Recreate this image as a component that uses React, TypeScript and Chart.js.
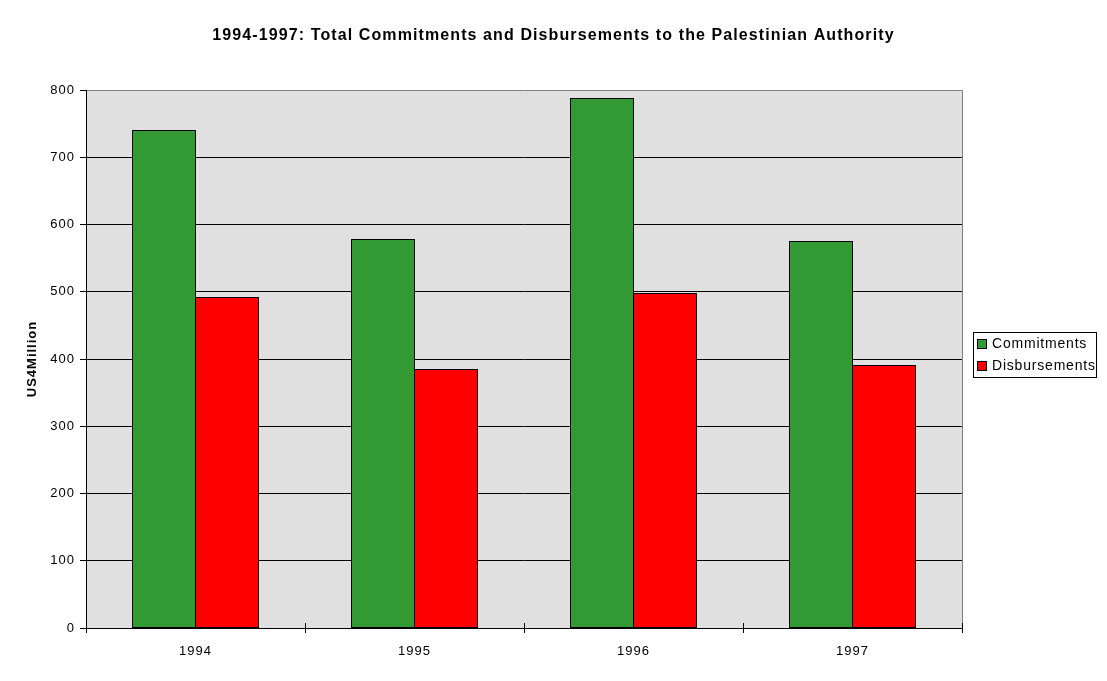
import React, { useEffect, useRef } from "react";
import { Chart, registerables } from "chart.js";

Chart.register(...registerables);

const categories = ["1994", "1995", "1996", "1997"];
const commitments = [740, 577, 787, 574];
const disbursements = [492, 384, 498, 390];
const seriesNames = ["Commitments", "Disbursements"];
const seriesColors = ["#339933", "#FF0000"];
const titleText = "1994-1997: Total Commitments and Disbursements to the Palestinian Authority";
const yTitle = "US4Million";

const FONT = "'Liberation Sans', Arial, sans-serif";

const spacingPlugin = {
  id: "spacing",
  beforeLayout(chart: any) {
    chart.ctx.letterSpacing = "1px";
  },
  beforeDraw(chart: any) {
    chart.ctx.letterSpacing = "1px";
  },
};

const bgPlugin = {
  id: "plotBg",
  beforeDraw(chart: any) {
    const { ctx, chartArea } = chart;
    const { left, top, right, bottom } = chartArea;
    ctx.save();
    ctx.fillStyle = "#E0E0E0";
    ctx.fillRect(left, top, right - left, bottom - top);
    ctx.strokeStyle = "#808080";
    ctx.lineWidth = 1;
    ctx.beginPath();
    ctx.moveTo(Math.round(left) + 0.5, Math.round(top) + 0.5);
    ctx.lineTo(Math.round(right) + 0.5, Math.round(top) + 0.5);
    ctx.lineTo(Math.round(right) + 0.5, Math.round(bottom) + 0.5);
    ctx.stroke();
    ctx.restore();
  },
};

const outlinePlugin = {
  id: "barOutline",
  afterDatasetsDraw(chart: any) {
    const { ctx } = chart;
    ctx.save();
    ctx.strokeStyle = "#000000";
    ctx.lineWidth = 1;
    chart.data.datasets.forEach((_ds: any, i: number) => {
      const meta = chart.getDatasetMeta(i);
      meta.data.forEach((bar: any) => {
        const l = Math.floor(bar.x - bar.width / 2) + 0.5;
        const r = Math.floor(bar.x + bar.width / 2) + 0.5;
        const t = Math.floor(bar.y) + 0.5;
        const b = Math.floor(bar.base) + 0.5;
        ctx.strokeRect(l, t, r - l, b - t);
      });
    });
    // tick marks on x axis crossing the axis line
    const xs = chart.scales.x;
    const n = chart.data.labels.length;
    const yb = Math.round(chart.chartArea.bottom);
    ctx.beginPath();
    for (let i = 0; i <= n; i++) {
      const px = i < n ? xs.getPixelForValue(i) - (xs.width / n) / 2 : xs.right;
      const xx = Math.round(px) + 0.5;
      ctx.moveTo(xx, yb - 5);
      ctx.lineTo(xx, yb + 5);
    }
    ctx.stroke();
    ctx.restore();
  },
};

const textPlugin = {
  id: "titleLegend",
  afterDraw(chart: any) {
    const { ctx } = chart;
    ctx.save();
    ctx.letterSpacing = "1.1px";
    ctx.fillStyle = "#000000";
    ctx.font = `bold 16px ${FONT}`;
    ctx.textAlign = "center";
    ctx.textBaseline = "middle";
    ctx.fillText(titleText, 553.5, 36);

    const x = 973.5;
    const y = 332.5;
    const w = 123;
    const h = 45;
    ctx.fillStyle = "#FFFFFF";
    ctx.fillRect(x, y, w, h);
    ctx.strokeStyle = "#000000";
    ctx.lineWidth = 1;
    ctx.strokeRect(x, y, w, h);
    ctx.letterSpacing = "0.8px";
    ctx.font = `14px ${FONT}`;
    ctx.textAlign = "left";
    chart.data.datasets.forEach((ds: any, i: number) => {
      const cy = 344 + i * 22;
      ctx.fillStyle = ds.backgroundColor;
      ctx.fillRect(977.5, cy - 4.5, 9, 9);
      ctx.strokeStyle = "#000000";
      ctx.strokeRect(977.5, cy - 4.5, 9, 9);
      ctx.fillStyle = "#000000";
      ctx.fillText(ds.label, 992, cy + 0.5);
    });
    ctx.restore();
  },
};

export default function App() {
  const ref = useRef<HTMLCanvasElement | null>(null);
  useEffect(() => {
    document.body.style.margin = "0";
    if (!ref.current) return;
    const chart = new Chart(ref.current, {
      type: "bar",
      data: {
        labels: categories,
        datasets: [
          {
            label: seriesNames[0],
            data: commitments,
            backgroundColor: seriesColors[0],
            borderWidth: 0,
          },
          {
            label: seriesNames[1],
            data: disbursements,
            backgroundColor: seriesColors[1],
            borderWidth: 0,
          },
        ],
      },
      options: {
        responsive: false,
        animation: false,
        devicePixelRatio: 1,
        layout: { padding: { left: 25, right: 145, top: 90, bottom: 0 } },
        datasets: { bar: { categoryPercentage: 126 / 219, barPercentage: 1 } },
        plugins: {
          legend: { display: false },
          tooltip: { enabled: false },
          title: { display: false },
        },
        scales: {
          x: {
            offset: true,
            grid: { display: false },
            border: { display: true, color: "#000000", width: 1 },
            ticks: {
              color: "#000000",
              font: { family: FONT, size: 13 },
              padding: 8,
            },
            afterFit: (scale: any) => {
              scale.height = 53;
            },
          },
          y: {
            min: 0,
            max: 800,
            ticks: {
              stepSize: 100,
              color: "#000000",
              font: { family: FONT, size: 13 },
              padding: 5,
            },
            grid: {
              color: (c: any) => (c.tick && c.tick.value === 800 ? "rgba(0,0,0,0)" : "#000000"),
              tickColor: "#000000",
              tickLength: 6,
            },
            border: { display: true, color: "#000000", width: 1 },
            title: {
              display: true,
              text: yTitle,
              color: "#000000",
              font: { family: FONT, size: 13, weight: "bold" },
              padding: { top: 0, bottom: 0 },
            },
            afterFit: (scale: any) => {
              scale.width = 61;
            },
          },
        },
      },
      plugins: [spacingPlugin, bgPlugin, outlinePlugin, textPlugin],
    });
    return () => chart.destroy();
  }, []);
  return (
    <div style={{ width: 1107, height: 681, background: "#FFFFFF" }}>
      <canvas ref={ref} width={1107} height={681} style={{ display: "block" }} />
    </div>
  );
}
